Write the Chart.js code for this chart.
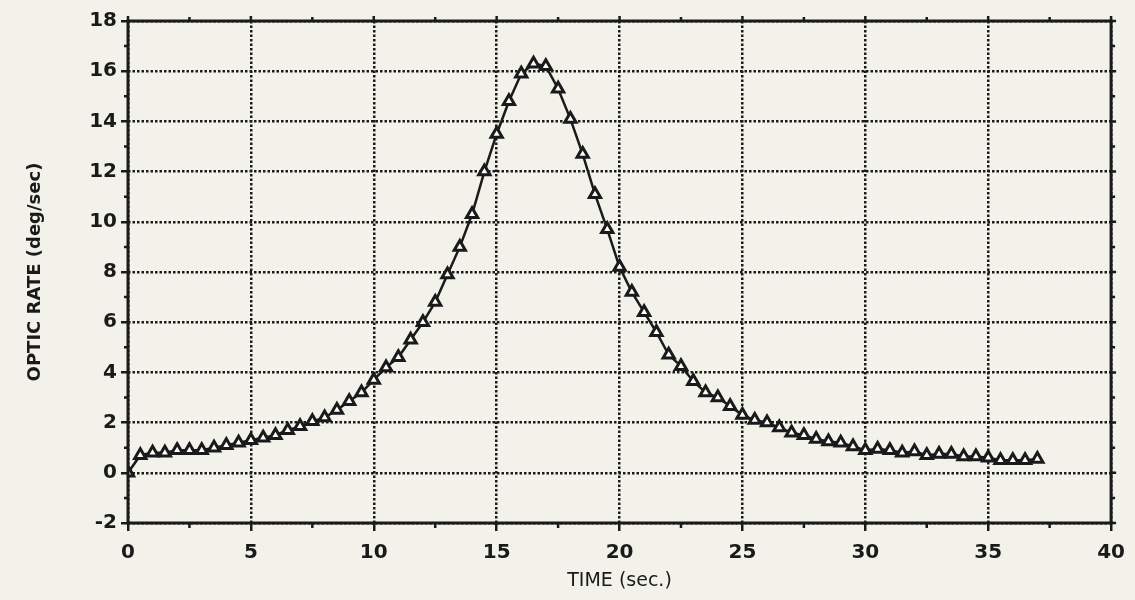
<!DOCTYPE html>
<html lang="en">
<head>
    <meta charset="utf-8">
    <title>Optic Rate vs Time</title>
    <script src="https://cdn.jsdelivr.net/npm/chart.js"></script>
    <style>
        body {
            margin: 0;
            padding: 0;
            background-color: #f2f2ea;
        }
        .wrap {
            width: 1135px;
            height: 600px;
        }
    </style>
</head>
<body>
    <div class="wrap">
        <canvas id="rateChart" width="1135" height="600"></canvas>
    </div>

    <script>
        // time samples (sec), every half second
        const times = [
            0, 0.5, 1, 1.5, 2, 2.5, 3, 3.5, 4, 4.5,
            5, 5.5, 6, 6.5, 7, 7.5, 8, 8.5, 9, 9.5,
            10, 10.5, 11, 11.5, 12, 12.5, 13, 13.5, 14, 14.5,
            15, 15.5, 16, 16.5, 17, 17.5, 18, 18.5, 19, 19.5,
            20, 20.5, 21, 21.5, 22, 22.5, 23, 23.5, 24, 24.5,
            25, 25.5, 26, 26.5, 27, 27.5, 28, 28.5, 29, 29.5,
            30, 30.5, 31, 31.5, 32, 32.5, 33, 33.5, 34, 34.5,
            35, 35.5, 36, 36.5, 37
        ];
        // optic rate (deg/sec)
        const opticRate = [
            0, 0.7, 0.8, 0.8, 0.9, 0.9, 0.9, 1.0, 1.1, 1.2,
            1.3, 1.4, 1.5, 1.7, 1.85, 2.05, 2.2, 2.5, 2.85, 3.2,
            3.7, 4.2, 4.6, 5.3, 6.0, 6.8, 7.9, 9.0, 10.3, 12.0,
            13.5, 14.8, 15.9, 16.3, 16.2, 15.3, 14.1, 12.7, 11.1, 9.7,
            8.2, 7.2, 6.4, 5.6, 4.7, 4.25, 3.65, 3.2, 3.0, 2.65,
            2.3, 2.1, 2.0, 1.8, 1.6, 1.5, 1.35, 1.25, 1.2, 1.05,
            0.9, 0.95, 0.9, 0.8, 0.85, 0.7, 0.75, 0.75, 0.65, 0.65,
            0.6, 0.5, 0.5, 0.5, 0.55
        ];
        const xTicks = [0, 5, 10, 15, 20, 25, 30, 35, 40];
        const yTicks = [-2, 0, 2, 4, 6, 8, 10, 12, 14, 16, 18];
        const xMinor = [2.5, 7.5, 12.5, 17.5, 22.5, 27.5, 32.5, 37.5];
        const yMinor = [-1, 1, 3, 5, 7, 9, 11, 13, 15, 17];

        const ink = '#1a1a1a';
        const tickFont = { family: 'DejaVu Sans', size: 20, weight: 'bold' };

        // frame + small ticks on all four sides (Chart.js has no minor ticks)
        const framePlugin = {
            id: 'frame',
            afterDraw(chart) {
                const ctx = chart.ctx;
                const a = chart.chartArea;
                const xs = chart.scales.x;
                const ys = chart.scales.y;
                ctx.save();
                ctx.strokeStyle = ink;
                ctx.lineWidth = 3;
                ctx.strokeRect(a.left, a.top, a.right - a.left, a.bottom - a.top);
                ctx.lineWidth = 2.5;
                ctx.beginPath();
                xMinor.forEach(v => {
                    const px = xs.getPixelForValue(v);
                    ctx.moveTo(px, a.bottom); ctx.lineTo(px, a.bottom + 5);
                    ctx.moveTo(px, a.top); ctx.lineTo(px, a.top - 4);
                });
                xTicks.forEach(v => {
                    const px = xs.getPixelForValue(v);
                    ctx.moveTo(px, a.top); ctx.lineTo(px, a.top - 5);
                });
                yMinor.forEach(v => {
                    const py = ys.getPixelForValue(v);
                    ctx.moveTo(a.left, py); ctx.lineTo(a.left - 4, py);
                    ctx.moveTo(a.right, py); ctx.lineTo(a.right + 4, py);
                });
                yTicks.forEach(v => {
                    const py = ys.getPixelForValue(v);
                    ctx.moveTo(a.right, py); ctx.lineTo(a.right + 5, py);
                });
                ctx.stroke();
                ctx.restore();
            }
        };

        const ctx = document.getElementById('rateChart').getContext('2d');
        new Chart(ctx, {
            type: 'line',
            data: {
                datasets: [{
                    label: 'Optic rate',
                    data: times.map((t, i) => ({ x: t, y: opticRate[i] })),
                    borderColor: ink,
                    borderWidth: 2.5,
                    tension: 0,
                    pointStyle: 'triangle',
                    pointRadius: 6.5,
                    pointBorderWidth: 3,
                    pointBackgroundColor: '#ffffff',
                    pointBorderColor: ink
                }]
            },
            options: {
                responsive: false,
                animation: false,
                layout: { padding: { top: 21, right: 22, left: 0, bottom: 0 } },
                plugins: {
                    legend: { display: false },
                    tooltip: { enabled: false }
                },
                scales: {
                    x: {
                        type: 'linear',
                        min: 0,
                        max: 40,
                        afterBuildTicks: s => { s.ticks = xTicks.map(v => ({ value: v })); },
                        afterFit: s => { s.height = 77; },
                        ticks: { color: ink, font: tickFont, padding: 10, maxRotation: 0 },
                        grid: {
                            color: ink,
                            lineWidth: 2.5,
                            tickLength: 8,
                            tickColor: ink,
                            tickWidth: 2.5
                        },
                        border: { display: false, dash: [2.5, 2] },
                        title: {
                            display: true,
                            text: 'TIME (sec.)',
                            color: ink,
                            font: { family: 'DejaVu Sans', size: 19 },
                            padding: { top: 0, bottom: 8 }
                        }
                    },
                    y: {
                        min: -2,
                        max: 18,
                        afterBuildTicks: s => { s.ticks = yTicks.map(v => ({ value: v })); },
                        afterFit: s => { s.width = 128; },
                        ticks: { color: ink, font: tickFont, padding: 4 },
                        grid: {
                            color: ink,
                            lineWidth: 2.5,
                            tickLength: 7,
                            tickColor: ink,
                            tickWidth: 2.5
                        },
                        border: { display: false, dash: [2.5, 2] },
                        title: {
                            display: true,
                            text: 'OPTIC RATE (deg/sec)',
                            color: ink,
                            font: { family: 'DejaVu Sans', size: 18, weight: 'bold' },
                            padding: { top: 25, bottom: 0 }
                        }
                    }
                }
            },
            plugins: [framePlugin]
        });
    </script>
</body>
</html>
